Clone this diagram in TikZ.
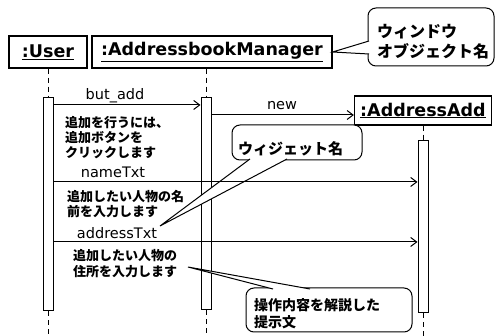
\documentclass[tikz,border=0pt]{standalone}
\usepackage{fontspec}
\setmainfont{DejaVu Sans}
\newfontfamily\jp{Noto Sans CJK JP}
\usetikzlibrary{arrows.meta}
\usetikzlibrary{positioning}

\tikzset{
  objbox/.style={draw, line width=1.2pt, inner sep=0pt, font=\fontsize{17.5}{20}\selectfont\bfseries},
  actbar/.style={draw, fill=white, line width=1pt, minimum width=10pt, inner sep=0pt},
  lifeline/.style={line width=1pt, dash pattern=on 5pt off 4pt},
  msg/.style={line width=1pt, -{Straight Barb[length=6pt,width=9pt]}},
  msglabel/.style={inner sep=0pt, font=\fontsize{14.5}{16}\selectfont},
  memo/.style={inner sep=0pt, anchor=west, align=left, font=\jp\bfseries\fontsize{13}{15}\selectfont},
  callout/.style={draw, fill=white, line width=1pt, rounded corners=8pt},
  calltext/.style={inner sep=0pt, anchor=west, align=left},
}

\begin{document}
\begin{tikzpicture}[x=1pt,y=-1pt]
\useasboundingbox (0,0) rectangle (496,336);
\coordinate (bottom) at (0,336);

% objects
\node[objbox, minimum width=78pt, minimum height=32pt] (user) at (48,52) {\underline{:User}};
\node[objbox, minimum width=240pt, minimum height=32pt] (mgr) at (212,52) {\underline{:AddressbookManager}};
\node[objbox, minimum width=137pt, minimum height=29pt] (add) at (423,110.5) {\underline{:AddressAdd}};

% activations
\node[actbar, minimum height=213pt] (uact) at (48,204.5) {};
\node[actbar, minimum height=212pt] (mact) at (206,204) {};
\node[actbar, minimum height=172pt] (aact) at (423,227) {};

\draw[lifeline] (user) -- (uact);
\draw[lifeline] (uact) -- (uact |- bottom);
\draw[lifeline] (mgr.south -| mact) -- (mact);
\draw[lifeline] (mact) -- (mact |- bottom);
\draw[lifeline] (add) -- (aact);
\draw[lifeline] (aact) -- (aact |- bottom);

% callouts
\draw[callout] (368,8) rectangle (494,66);
\fill[white] (369,41) -- (mgr.east) -- (369,54) -- cycle;
\draw[line width=1pt] (369,41) -- (mgr.east) -- (369,54);
\node[calltext, font=\jp\bfseries\fontsize{16}{20}\selectfont] (wintxt) at (377,42) {ウィンドウ\\オブジェクト名};

\coordinate (wgtip) at (160,226);
\draw[callout] (232,125) rectangle (362,160);
\fill[white] (250,159) -- (wgtip) -- (287,159) -- cycle;
\draw[line width=1pt] (250,159) -- (wgtip) -- (287,159);
\node[calltext, font=\jp\bfseries\fontsize{15}{18}\selectfont] (wgtxt) at (238,149) {ウィジェット名};

\coordinate (optip) at (188,267);
\draw[callout] (246,288) rectangle (412,332);
\fill[white] (273,289) -- (optip) -- (310,289) -- cycle;
\draw[line width=1pt] (273,289) -- (optip) -- (310,289);
\node[calltext, font=\jp\bfseries\fontsize{14}{17}\selectfont] (optxt) at (254,313.5) {操作内容を解説した\\提示文};

% messages
\draw[msg] (uact.east |- 0,105) -- (mact.west |- 0,105);
\node[msglabel] (butadd) at (115,96) {but\_add};
\draw[msg] (mact.east |- 0,115) -- (add.west |- 0,115);
\node[msglabel] (new) at (282,106) {new};
\draw[msg] (uact.east |- 0,182) -- (aact.west |- 0,182);
\node[msglabel] (name) at (113,172) {nameTxt};
\draw[msg] (uact.east |- 0,242) -- (aact.west |- 0,242);
\node[msglabel] (addr) at (117,233) {addressTxt};

\node[memo] (memo1) at (65,138) {追加を行うには、\\追加ボタンを\\クリックします};
\node[memo] (memo2) at (67,204.5) {追加したい人物の名\\前を入力します};
\node[memo, font=\jp\bfseries\fontsize{13}{16}\selectfont] (memo3) at (73,264) {追加したい人物の\\住所を入力します};

\end{tikzpicture}
\end{document}
